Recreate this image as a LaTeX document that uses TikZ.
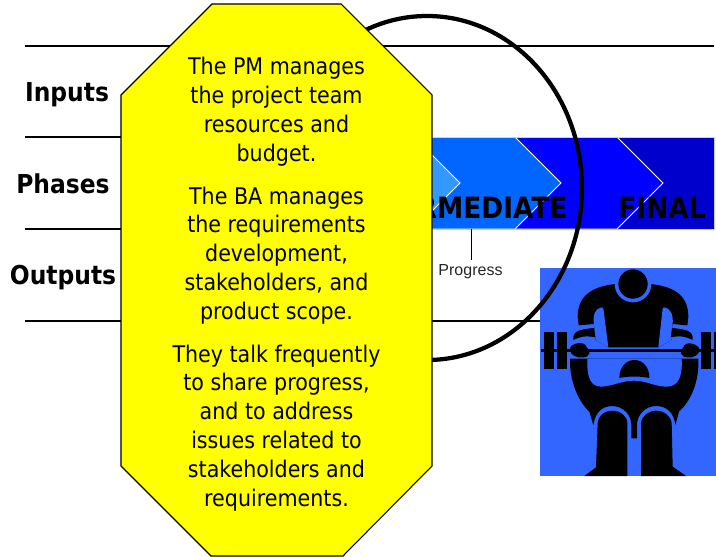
\documentclass[tikz,border=0pt]{standalone}
\usepackage{fontspec}
\setmainfont{DejaVu Sans Condensed}
\newfontfamily\arialfont{Liberation Sans}
\definecolor{noteyellow}{HTML}{FFFF00}
\definecolor{phaseone}{HTML}{3399FF}
\definecolor{phasetwo}{HTML}{0066FF}
\definecolor{phasethree}{HTML}{0000FF}
\definecolor{phasefour}{HTML}{0000CC}
\definecolor{liftblue}{HTML}{3366FF}
\tikzset{
  rowline/.style={draw=black,line width=0.8pt},
  rowlabel/.style={anchor=base,font=\bfseries\fontsize{19.5}{22}\selectfont,text=black},
  phaselabel/.style={font=\bfseries\fontsize{22}{26}\selectfont,text=black},
  chevron/.style={draw=white,line width=0.7pt},
  lift/.style={fill=black,draw=none},
  gap/.style={fill=liftblue,draw=none}
}
\begin{document}
\begin{tikzpicture}[x=0.75pt,y=-0.75pt]
\useasboundingbox (0,0) rectangle (716,556);
%%Rows
\draw[rowline] (25,46) -- (714,46);
\draw[rowline] (25,137) -- (121,137);
\draw[rowline] (25,229) -- (121,229);
\draw[rowline] (25,321) -- (540,321);
%%Labels
\node[rowlabel] (inputs) at (67,102) {Inputs};
\node[rowlabel] (phases) at (63,193) {Phases};
\node[rowlabel] (outputs) at (63,284) {Outputs};
%%Phases
\fill[phasefour] (300,137) rectangle (714,229);
\draw[chevron,fill=phasethree] (300,137) -- (617,137) -- (663,183) -- (617,229) -- (300,229) -- cycle;
\draw[chevron,fill=phasetwo] (300,137) -- (515,137) -- (561,183) -- (515,229) -- (300,229) -- cycle;
\draw[chevron,fill=phaseone] (300,137) -- (414,137) -- (460,183) -- (414,229) -- (300,229) -- cycle;
\draw[draw=blue!20,line width=0.6pt] (300,137) -- (714,137) -- (714,229) -- (300,229);
\node[phaselabel,anchor=base east] (intermediate) at (572,218) {INTERMEDIATE};
\node[phaselabel,anchor=base] (final) at (662,218) {FINAL};
%%Progress
\coordinate (tick) at (471,229);
\node[font=\arialfont\fontsize{12}{14}\selectfont,text=black!85] (progress) at (470.5,272) {Progress};
\draw[line width=0.6pt] (tick) -- (progress.north -| tick);
%%Lifter
\fill[liftblue] (540,268) rectangle (716,476);
\begin{scope}[shift={(530,260)},x=0.25pt,y=-0.25pt]
\clip (30,24) rectangle (558,648);
% body
\path[lift] (255,72) .. controls (205,78) and (143,95) .. (143,170) -- (146,196) -- (192,192) -- (197,240) -- (235,262) -- (385,262) -- (425,240) -- (428,192) -- (472,196) -- (475,170) .. controls (475,95) and (415,78) .. (362,72) -- cycle;
\path[gap] (309,72) circle (55);
\path[lift] (309,72) circle (44);
\path[gap] (192,192) .. controls (188,165) and (195,145) .. (215,142) -- (220,145) -- (235,262) -- (197,240) -- cycle;
\path[gap] (428,192) .. controls (430,165) and (423,145) .. (402,142) -- (398,145) -- (385,262) -- (425,240) -- cycle;
% forearms
\path[lift] (130,238) .. controls (128,212) and (150,208) .. (192,204) -- (196,232) .. controls (165,226) and (150,230) .. (130,240) -- cycle;
\path[lift] (488,238) .. controls (490,212) and (468,208) .. (426,204) -- (422,232) .. controls (453,226) and (468,230) .. (488,240) -- cycle;
% hips and legs
\path[lift] (120,296) .. controls (118,370) and (150,430) .. (178,455) -- (190,495) .. controls (195,460) and (215,438) .. (246,438) .. controls (280,438) and (304,465) .. (304,495) -- (304,535) -- (321,535) -- (321,495) .. controls (321,465) and (345,438) .. (378,438) .. controls (412,438) and (432,460) .. (436,495) -- (447,455) .. controls (480,425) and (508,370) .. (505,296) -- cycle;
\path[gap] (172,296) .. controls (170,360) and (185,380) .. (215,380) .. controls (250,378) and (275,362) .. (312,362) .. controls (350,362) and (375,380) .. (410,380) .. controls (445,380) and (458,350) .. (455,296) -- cycle;
\path[lift] (268,354) .. controls (268,320) and (290,300) .. (313,300) .. controls (338,300) and (358,320) .. (358,354) .. controls (330,348) and (295,348) .. (268,354) -- cycle;
\path[lift] (203,490) .. controls (205,465) and (225,452) .. (247,452) .. controls (270,452) and (292,468) .. (292,490) -- (292,648) -- (163,648) -- (198,622) -- cycle;
\path[lift] (333,490) .. controls (335,468) and (355,452) .. (378,452) .. controls (402,452) and (423,468) .. (425,490) -- (428,620) -- (468,648) -- (333,648) -- cycle;
% bar and hands
\path[lift] (32,268) rectangle (558,276);
\path[lift] (42,215) rectangle (72,328);
\path[lift] (80,215) rectangle (110,328);
\path[lift] (513,215) rectangle (543,328);
\path[lift] (551,215) rectangle (558,328);
\path[lift] (120,265) .. controls (122,250) and (165,240) .. (170,262) .. controls (185,270) and (180,292) .. (160,292) .. controls (140,295) and (118,285) .. (120,265) -- cycle;
\path[lift] (508,268) .. controls (506,252) and (465,240) .. (460,262) .. controls (445,270) and (452,292) .. (472,292) .. controls (490,295) and (510,285) .. (508,268) -- cycle;
\end{scope}
%%Circle
\draw[line width=3.2pt] (427,188) ellipse [x radius=155,y radius=172];
%%Note
\draw[fill=noteyellow,draw=black,line width=0.8pt] (121,95) -- (212,4) -- (341,4) -- (432,95) -- (432,466) -- (343,556) -- (211,556) -- (121,466) -- cycle;
\node[align=center,font=\fontsize{17.2}{21.7}\selectfont,text=black] (note) at (276.5,284.5) {The PM manages\\the project team\\resources and\\budget.\\[10pt]The BA manages\\the requirements\\development,\\stakeholders, and\\product scope.\\[10pt]They talk frequently\\to share progress,\\and to address\\issues related to\\stakeholders and\\requirements.};
\end{tikzpicture}
\end{document}
